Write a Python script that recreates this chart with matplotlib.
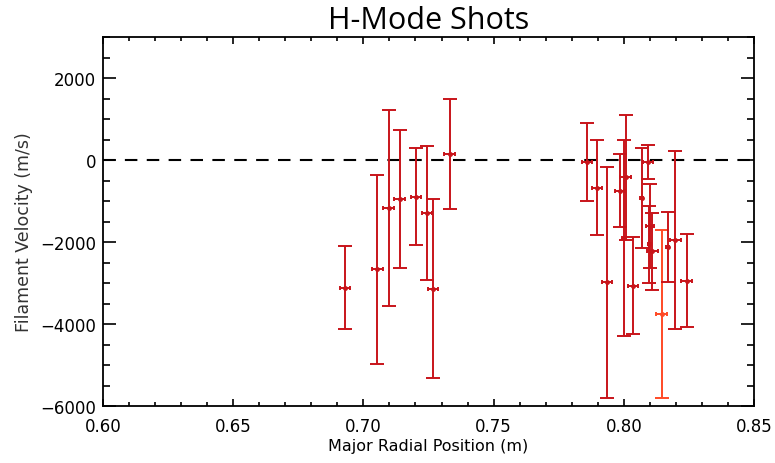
import matplotlib
matplotlib.use("Agg")
import matplotlib.pyplot as plt
from matplotlib.ticker import MultipleLocator

# Data
radius = [0.6929, 0.7054, 0.7097, 0.7139, 0.7202, 0.7244, 0.7267, 0.7331,
          0.7859, 0.7898, 0.7935, 0.7985, 0.8007, 0.8000, 0.8036, 0.8068,
          0.8093, 0.8102, 0.8098, 0.8110, 0.8145, 0.8168, 0.8198, 0.8241]
velocity = [-3110, -2670, -1172, -952, -895, -1290, -3137, 143,
            -49, -672, -2987, -748, -423, -1897, -3069, -920,
            -45, -1615, -2060, -2230, -3750, -2116, -1949, -2939]
vel_err = [1017, 2311, 2400, 1692, 1188, 1632, 2185, 1347,
           952, 1160, 2809, 895, 1530, 2393, 1180, 1220,
           420, 1030, 944, 936, 2047, 854, 2161, 1131]
rad_err = [0.002, 0.002, 0.002, 0.002, 0.002, 0.002, 0.002, 0.002,
           0.002, 0.002, 0.002, 0.002, 0.002, 0.0005, 0.002, 0.0005,
           0.002, 0.0015, 0.0005, 0.002, 0.002, 0.0005, 0.002, 0.002]
colors = ['#c8141a'] * 20 + ['#ff4a26'] + ['#c8141a'] * 3

title = "H-Mode Shots"
xlabel = "Major Radial Position (m)"
ylabel = "Filament Velocity (m/s)"

fig = plt.figure(figsize=(7.75, 4.64), dpi=100)
ax = fig.add_axes([0.1329, 0.1228, 0.84, 0.7953])

ax.axhline(0, color='black', lw=1.5, dashes=(6, 4.5), zorder=1)

for x, y, ye, xe, c in zip(radius, velocity, vel_err, rad_err, colors):
    ax.errorbar(x, y, yerr=ye, fmt='none', ecolor=c, elinewidth=1.4,
                capsize=4.7, capthick=1.4, zorder=2)
    ax.errorbar(x, y, xerr=xe, fmt='o', color=c, ms=2.5, ecolor=c,
                elinewidth=1.4, capsize=1.6, capthick=1.4, zorder=3)

ax.set_xlim(0.60, 0.85)
ax.set_ylim(-6000, 3000)
ax.xaxis.set_major_locator(MultipleLocator(0.05))
ax.xaxis.set_minor_locator(MultipleLocator(0.01))
ax.yaxis.set_major_locator(MultipleLocator(2000))
ax.yaxis.set_minor_locator(MultipleLocator(500))
ax.xaxis.set_major_formatter(matplotlib.ticker.FormatStrFormatter('%.2f'))

ax.tick_params(axis='both', which='both', direction='in', top=True, right=True,
               width=1.2, labelsize=12)
ax.tick_params(axis='x', which='major', length=5, pad=8)
ax.tick_params(axis='x', which='minor', length=3)
ax.tick_params(axis='y', which='major', length=9.5, pad=5)
ax.tick_params(axis='y', which='minor', length=5)
for s in ax.spines.values():
    s.set_linewidth(1.3)

ax.set_xlabel(xlabel, fontsize=11.5, labelpad=2)
ax.set_ylabel(ylabel, fontsize=12.5, color='#333333')
ax.yaxis.set_label_coords(-0.108, 0.474)
fig.text(0.5529, 0.955, title, ha='center', va='center', fontsize=22,
         family='Open Sans')

fig.savefig('out.png', dpi=100)
